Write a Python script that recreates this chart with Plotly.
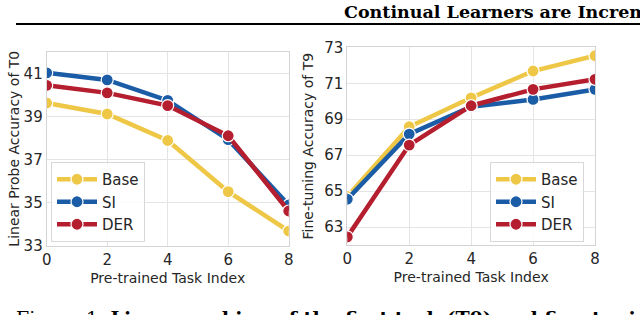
import plotly.graph_objects as go

x_idx = [0, 2, 4, 6, 8]

# Left: Linear probe accuracy of T0
lp_base = [39.62, 39.11, 37.88, 35.51, 33.68]
lp_si = [41.02, 40.69, 39.74, 37.92, 34.89]
lp_der = [40.44, 40.09, 39.50, 38.10, 34.61]

# Right: Fine-tuning accuracy of T9
ft_base = [64.70, 68.58, 70.19, 71.68, 72.53]
ft_si = [64.55, 68.17, 69.69, 70.10, 70.66]
ft_der = [62.45, 67.56, 69.75, 70.66, 71.22]

series_names = ["Base", "SI", "DER"]
colors = ["#EEC746", "#1B5CA7", "#B41E2E"]

left_yticks = [33, 35, 37, 39, 41]
right_yticks = [63, 65, 67, 69, 71, 73]
xticks = [0, 2, 4, 6, 8]

W, H = 640, 315
FONT = "DejaVu Sans"

fig = go.Figure()

for name, ys, c in zip(series_names, [lp_base, lp_si, lp_der], colors):
    fig.add_trace(go.Scatter(
        x=x_idx, y=ys, name=name, mode="lines+markers",
        line=dict(color=c, width=4.5),
        marker=dict(size=12, color=c, line=dict(color="white", width=1.2)),
        xaxis="x", yaxis="y", legend="legend",
    ))

for name, ys, c in zip(series_names, [ft_base, ft_si, ft_der], colors):
    fig.add_trace(go.Scatter(
        x=x_idx, y=ys, name=name, mode="lines+markers",
        line=dict(color=c, width=4.5),
        marker=dict(size=12, color=c, line=dict(color="white", width=1.2)),
        xaxis="x2", yaxis="y2", legend="legend2",
    ))

def px_x(p):
    return p / W

def px_y(p):
    return 1 - p / H

grid_c = "#e4e4e4"
frame_c = "#d4d4d4"
tickfont = dict(family=FONT, size=15, color="#262626")
titlefont = dict(family=FONT, size=14, color="#262626")

common_x = dict(range=[0, 8], tickvals=xticks, showgrid=True, gridcolor=grid_c,
                gridwidth=1, zeroline=False, showline=True, linecolor=frame_c,
                linewidth=1, mirror=True, ticks="", tickfont=tickfont,
                automargin=False, title=dict(text="Pre-trained Task Index",
                                             font=titlefont, standoff=5))
common_y = dict(showgrid=True, gridcolor=grid_c, gridwidth=1, zeroline=False,
                showline=True, linecolor=frame_c, linewidth=1, mirror=True,
                ticks="", tickfont=tickfont, automargin=False)

legend_common = dict(xanchor="left", yanchor="top",
                     bgcolor="rgba(255,255,255,0.85)", bordercolor="#d8d8d8",
                     borderwidth=1, font=dict(family=FONT, size=15, color="#262626"),
                     tracegroupgap=0, itemwidth=40)

fig.update_layout(
    width=W, height=H,
    margin=dict(l=0, r=0, t=0, b=0),
    paper_bgcolor="white", plot_bgcolor="white",
    xaxis=dict(domain=[px_x(46.7), px_x(288.7)], anchor="y", **common_x),
    yaxis=dict(domain=[px_y(245.7), px_y(51.7)], anchor="x", range=[33, 42.0],
               tickvals=left_yticks,
               title=dict(text="Linear Probe Accuracy of T0", font=titlefont, standoff=0),
               **common_y),
    xaxis2=dict(domain=[px_x(347.3), px_x(595)], anchor="y2", **common_x),
    yaxis2=dict(domain=[px_y(245), px_y(47.3)], anchor="x2", range=[62.0, 73.0],
                tickvals=right_yticks,
                title=dict(text="Fine-tuning Accuracy of T9", font=titlefont, standoff=7),
                **common_y),
    legend=dict(x=px_x(51), y=px_y(162), **legend_common),
    legend2=dict(x=px_x(490), y=px_y(162), **legend_common),
    showlegend=True,
)

# Page context around the figure
fig.add_annotation(
    text="<b>Continual Learners are Incremental Model Generalizers</b>",
    xref="paper", yref="paper", x=px_x(342), y=px_y(0), xanchor="left", yanchor="top",
    showarrow=False, font=dict(family="DejaVu Serif", size=17.5, color="black"),
)
fig.add_shape(type="line", xref="paper", yref="paper",
              x0=px_x(16), x1=1.0, y0=px_y(24), y1=px_y(24),
              line=dict(color="black", width=2))
fig.add_annotation(
    text="Figure 1: <b>Linear probing of the first task (T0) and fine-tuning</b>",
    xref="paper", yref="paper", x=px_x(14), y=px_y(305), xanchor="left", yanchor="top",
    showarrow=False, font=dict(family="DejaVu Serif", size=19, color="black"),
)

fig.write_html("out.html", config={"displayModeBar": False},
               post_script="document.body.style.margin='0';")
